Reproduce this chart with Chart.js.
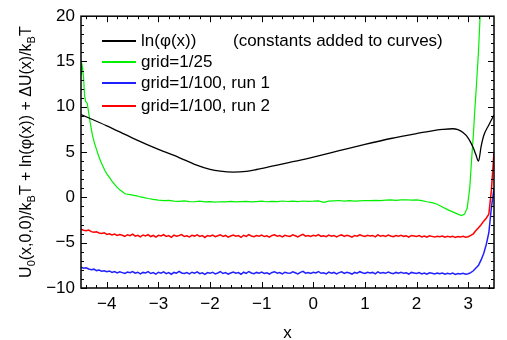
<!DOCTYPE html>
<html>
<head>
<meta charset="utf-8">
<script src="https://cdn.jsdelivr.net/npm/chart.js@4/dist/chart.umd.min.js"></script>
<style>
  body { margin: 0; background: #fff; }
  #wrap { position: relative; width: 507px; height: 340px; }
  #legend { position: absolute; left: 0; top: 0; font: 17px "Liberation Sans", Arial, sans-serif; color: #000; }
  .row { position: absolute; height: 20px; line-height: 20px; white-space: nowrap; }
  .swatch { position: absolute; left: 0; width: 34px; height: 2px; top: 9px; }
  .lbl { position: absolute; left: 39px; top: 0; }
</style>
</head>
<body>
<div id="wrap">
  <canvas id="chart" width="507" height="340"></canvas>
  <div id="legend"></div>
</div>
<script>
// axis ticks
const xTicks = [-4, -3, -2, -1, 0, 1, 2, 3];
const yTicks = [-10, -5, 0, 5, 10, 15, 20];

// ln(phi(x))
const phiX = [-4.5, -4.0, -3.5, -3.0, -2.6, -2.3, -2.0, -1.8, -1.55, -1.3, -1.1, -0.8, -0.5, -0.25, 0.0,
  0.5, 1.0, 1.5, 2.0, 2.3, 2.5, 2.7, 2.8, 2.9, 3.0, 3.05, 3.1, 3.15, 3.2, 3.25, 3.3, 3.4, 3.5];
const phiY = [9.15, 7.9, 6.55, 5.3, 4.4, 3.65, 3.1, 2.9, 2.8, 2.88, 3.08, 3.45, 3.82, 4.12, 4.45,
  5.15, 5.85, 6.5, 7.05, 7.35, 7.5, 7.58, 7.48, 7.15, 6.55, 6.05, 5.45, 4.7, 4.0, 5.6, 6.8, 8.0, 9.1];

// grid=1/25
const g25X = [-4.50, -4.49, -4.47, -4.45, -4.43, -4.41, -4.38, -4.35, -4.32, -4.28, -4.24, -4.20, -4.16, -4.12,
  -4.08, -4.04, -4.00, -3.95, -3.90, -3.85, -3.80, -3.75, -3.70, -3.65, -3.60, -3.55, -3.50, -3.45, -3.40,
  -3.35, -3.30, -3.20, -3.10, -3.00, -2.90, -2.80, -2.70, -2.60, -2.50, -2.40, -2.30, -2.20, -2.10, -2.00,
  -1.90, -1.80, -1.70, -1.60, -1.50, -1.40, -1.30, -1.20, -1.10, -1.00, -0.90, -0.80, -0.70, -0.60, -0.50,
  -0.40, -0.30, -0.20, -0.10, 0.00, 0.10, 0.20, 0.30, 0.40, 0.50, 0.60, 0.70, 0.80, 0.90, 1.00, 1.10, 1.20,
  1.30, 1.40, 1.50, 1.60, 1.70, 1.80, 1.90, 2.00, 2.10, 2.20, 2.30, 2.40, 2.50, 2.60, 2.70, 2.80, 2.87,
  2.93, 2.98, 3.03, 3.07, 3.10, 3.13, 3.16, 3.20, 3.23, 3.26];
const g25Y = [13.6, 14.9, 14.3, 13.2, 11.2, 10.6, 10.4, 9.3, 8.2, 6.9, 6.0, 5.3, 4.6, 4.0,
  3.5, 3.0, 2.6, 2.2, 1.8, 1.45, 1.1, 0.85, 0.65, 0.4, 0.35, 0.3, 0.25, 0.2, 0.15,
  0.05, 0.0, -0.12, -0.22, -0.3, -0.35, -0.32, -0.42, -0.44, -0.38, -0.46, -0.48, -0.42, -0.5, -0.46,
  -0.52, -0.48, -0.5, -0.45, -0.5, -0.47, -0.44, -0.5, -0.46, -0.42, -0.48, -0.44, -0.46, -0.4, -0.45,
  -0.42, -0.46, -0.4, -0.44, -0.42, -0.38, -0.55, -0.42, -0.38, -0.34, -0.4, -0.36, -0.42, -0.38, -0.34, -0.36, -0.32,
  -0.35, -0.3, -0.28, -0.33, -0.28, -0.26, -0.3, -0.28, -0.36, -0.48, -0.58, -0.75, -1.05, -1.35, -1.6, -1.85, -2.0,
  -1.85, -1.2, 1.0, 4.5, 6.9, 9.8, 12.4, 16.1, 19.9, 23.5];

// grid=1/100 runs, sampled every 0.05 from x = -4.5 to 3.5
const runStart = -4.5;
const runStep = 0.05;
const run1 = [
  -7.70, -7.82, -7.76, -7.90, -7.98, -7.92, -8.08, -8.02, -8.14, -8.10,
  -8.20, -8.12, -8.28, -8.18, -8.34, -8.22, -8.30, -8.40, -8.24, -8.32,
  -8.18, -8.36, -8.26, -8.44, -8.28, -8.34, -8.20, -8.40, -8.30, -8.46,
  -8.26, -8.36, -8.22, -8.42, -8.30, -8.48, -8.28, -8.36, -8.16, -8.34,
  -8.40, -8.30, -8.44, -8.26, -8.36, -8.22, -8.42, -8.32, -8.50, -8.30,
  -8.38, -8.26, -8.44, -8.34, -8.20, -8.40, -8.30, -8.46, -8.34, -8.24,
  -8.36, -8.30, -8.48, -8.26, -8.38, -8.18, -8.34, -8.42, -8.28, -8.36,
  -8.24, -8.40, -8.32, -8.46, -8.28, -8.20, -8.36, -8.30, -8.44, -8.26,
  -8.34, -8.38, -8.22, -8.32, -8.44, -8.28, -8.16, -8.36, -8.30, -8.40,
  -8.26, -8.34, -8.18, -8.38, -8.32, -8.44, -8.24, -8.36, -8.28, -8.44,
  -8.30, -8.22, -8.38, -8.26, -8.34, -8.46, -8.28, -8.36, -8.20, -8.32,
  -8.40, -8.26, -8.34, -8.28, -8.44, -8.22, -8.36, -8.30, -8.38, -8.24,
  -8.34, -8.42, -8.28, -8.36, -8.26, -8.38, -8.32, -8.46, -8.28, -8.34,
  -8.40, -8.30, -8.44, -8.34, -8.48, -8.32, -8.38, -8.46, -8.36, -8.42,
  -8.34, -8.48, -8.38, -8.44, -8.36, -8.50, -8.40, -8.46, -8.38, -8.48,
  -8.42, -8.30, -8.10, -7.80, -7.50, -6.90, -6.20, -5.20, -3.90, -1.10,
  1.00];
const run2 = [
  -3.50, -3.62, -3.68, -3.60, -3.78, -3.85, -3.80, -3.92, -3.98, -3.90,
  -4.08, -4.02, -4.15, -4.05, -4.20, -4.10, -4.18, -4.30, -4.12, -4.22,
  -4.05, -4.28, -4.18, -4.35, -4.15, -4.25, -4.10, -4.32, -4.20, -4.38,
  -4.18, -4.26, -4.12, -4.30, -4.22, -4.40, -4.16, -4.28, -4.20, -4.10,
  -4.32, -4.24, -4.36, -4.18, -4.27, -4.14, -4.30, -4.22, -4.42, -4.20,
  -4.28, -4.16, -4.34, -4.24, -4.12, -4.30, -4.20, -4.38, -4.26, -4.15,
  -4.28, -4.22, -4.40, -4.18, -4.30, -4.10, -4.26, -4.34, -4.20, -4.28,
  -4.16, -4.32, -4.24, -4.38, -4.20, -4.12, -4.28, -4.22, -4.35, -4.18,
  -4.26, -4.30, -4.14, -4.24, -4.36, -4.20, -4.08, -4.28, -4.22, -4.32,
  -4.18, -4.26, -4.10, -4.30, -4.24, -4.34, -4.16, -4.28, -4.20, -4.36,
  -4.22, -4.14, -4.30, -4.18, -4.26, -4.38, -4.20, -4.28, -4.12, -4.24,
  -4.32, -4.18, -4.26, -4.20, -4.36, -4.14, -4.28, -4.22, -4.30, -4.16,
  -4.26, -4.34, -4.20, -4.28, -4.18, -4.30, -4.24, -4.38, -4.20, -4.26,
  -4.32, -4.22, -4.36, -4.26, -4.40, -4.24, -4.30, -4.38, -4.28, -4.34,
  -4.26, -4.40, -4.30, -4.36, -4.28, -4.42, -4.32, -4.38, -4.30, -4.40,
  -4.34, -4.20, -4.02, -3.66, -3.34, -3.02, -2.62, -2.30, -1.85, 0.80,
  5.05];

const labels = ['ln(\u03c6(x))', 'grid=1/25', 'grid=1/100, run 1', 'grid=1/100, run 2'];
const colors = ['#000000', '#00f000', '#2020ff', '#ff0000'];

const pairs = (xs, ys) => ys.map((v, i) => ({ x: xs[i], y: v }));
const runPts = ys => ys.map((v, i) => ({ x: runStart + i * runStep, y: v }));

const FONT = '"Liberation Sans", Arial, sans-serif';
const minus = v => String(v).replace('-', '\u2212');

// inward ticks on all four sides, frame, axis titles
const framePlugin = {
  id: 'frame',
  afterDraw(chart) {
    const { ctx, chartArea: { left, right, top, bottom }, scales: { x, y } } = chart;
    ctx.save();
    ctx.strokeStyle = '#000';
    ctx.lineWidth = 1;
    ctx.beginPath();
    for (let k = -22; k <= 17; k++) {
      const px = Math.round(x.getPixelForValue(k / 5)) + 0.5;
      const len = k % 5 === 0 ? 6 : 3;
      ctx.moveTo(px, bottom); ctx.lineTo(px, bottom - len);
      ctx.moveTo(px, top); ctx.lineTo(px, top + len);
    }
    for (let k = -10; k <= 20; k++) {
      const py = Math.round(y.getPixelForValue(k)) + 0.5;
      const len = k % 5 === 0 ? 6 : 3;
      ctx.moveTo(left, py); ctx.lineTo(left + len, py);
      ctx.moveTo(right, py); ctx.lineTo(right - len, py);
    }
    ctx.stroke();
    ctx.lineWidth = 1.5;
    ctx.strokeRect(left, top, right - left, bottom - top);

    // x title
    ctx.fillStyle = '#000';
    ctx.font = '17px ' + FONT;
    ctx.textAlign = 'center';
    ctx.textBaseline = 'middle';
    ctx.fillText('x', (left + right) / 2, 333);

    // y title with subscripts
    const parts = [
      ['U', 0], ['0', 1], ['(x,0,0)/k', 0], ['B', 1],
      ['T + ln(\u03c6(x)) + \u0394U(x)/k', 0], ['B', 1], ['T', 0]
    ];
    const big = '16px ' + FONT, small = '11px ' + FONT;
    let total = 0;
    parts.forEach(([t, s]) => { ctx.font = s ? small : big; total += ctx.measureText(t).width; });
    ctx.translate(31, (top + bottom) / 2);
    ctx.rotate(-Math.PI / 2);
    ctx.textAlign = 'left';
    ctx.textBaseline = 'alphabetic';
    let cx = -total / 2;
    parts.forEach(([t, s]) => {
      ctx.font = s ? small : big;
      ctx.fillText(t, cx, s ? 4 : 0);
      cx += ctx.measureText(t).width;
    });
    ctx.restore();
  }
};

const ds = (label, data, color, width, cubic) => ({
  label, data, borderColor: color, borderWidth: width, pointRadius: 0,
  fill: false, tension: 0, cubicInterpolationMode: cubic ? 'monotone' : 'default'
});

new Chart(document.getElementById('chart'), {
  type: 'line',
  data: {
    datasets: [
      ds(labels[0], pairs(phiX, phiY), colors[0], 1.3, true),
      ds(labels[1], pairs(g25X, g25Y), colors[1], 1.2, false),
      ds(labels[3], runPts(run2), colors[3], 1.5, false),
      ds(labels[2], runPts(run1), colors[2], 1.5, false)
    ]
  },
  options: {
    responsive: false,
    animation: false,
    devicePixelRatio: 1,
    layout: { padding: { left: 0, right: 13, top: 14, bottom: 0 } },
    plugins: { legend: { display: false }, tooltip: { enabled: false } },
    scales: {
      x: {
        type: 'linear', min: -4.5, max: 3.5,
        afterBuildTicks: s => { s.ticks = xTicks.map(v => ({ value: v })); },
        afterFit: s => { s.height = 52; },
        grid: { display: false, drawTicks: false },
        border: { display: false },
        ticks: { color: '#000', font: { family: FONT, size: 17 }, padding: 6, maxRotation: 0, callback: v => minus(v) }
      },
      y: {
        type: 'linear', min: -10, max: 20,
        afterBuildTicks: s => { s.ticks = yTicks.map(v => ({ value: v })); },
        afterFit: s => { s.width = 81; },
        grid: { display: false, drawTicks: false },
        border: { display: false },
        ticks: { color: '#000', font: { family: FONT, size: 17 }, padding: 6, callback: v => minus(v) }
      }
    }
  },
  plugins: [framePlugin]
});

// legend inside plot area
const legend = document.getElementById('legend');
const rowsY = [31, 52, 73, 96];
labels.forEach((label, i) => {
  const row = document.createElement('div');
  row.className = 'row';
  row.style.left = '102px';
  row.style.top = rowsY[i] + 'px';
  const sw = document.createElement('span');
  sw.className = 'swatch';
  sw.style.backgroundColor = colors[i];
  const lb = document.createElement('span');
  lb.className = 'lbl';
  lb.textContent = label;
  row.appendChild(sw);
  row.appendChild(lb);
  legend.appendChild(row);
});
const note = document.createElement('div');
note.className = 'row';
note.style.left = '233px';
note.style.top = rowsY[0] + 'px';
note.textContent = '(constants added to curves)';
legend.appendChild(note);
</script>
</body>
</html>
